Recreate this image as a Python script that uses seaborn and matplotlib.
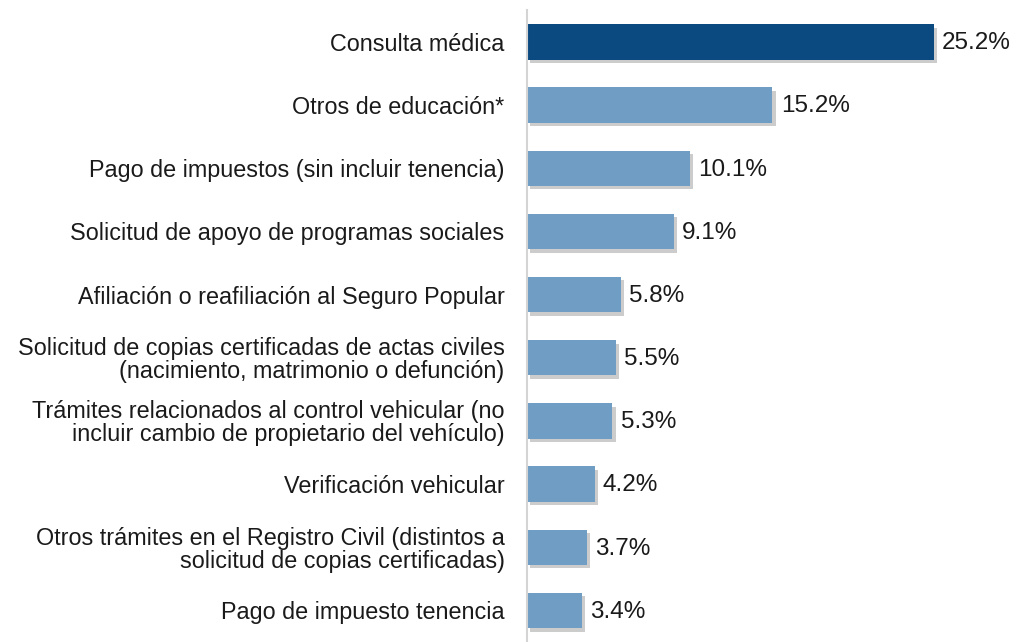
import matplotlib
matplotlib.use("Agg")
import matplotlib.pyplot as plt
import matplotlib.patheffects as pe
import seaborn as sns
import pandas as pd

categories = [
    "Consulta médica",
    "Otros de educación*",
    "Pago de impuestos (sin incluir tenencia)",
    "Solicitud de apoyo de programas sociales",
    "Afiliación o reafiliación al Seguro Popular",
    "Solicitud de copias certificadas de actas civiles\n(nacimiento, matrimonio o defunción)",
    "Trámites relacionados al control vehicular (no\nincluir cambio de propietario del vehículo)",
    "Verificación vehicular",
    "Otros trámites en el Registro Civil (distintos a\nsolicitud de copias certificadas)",
    "Pago de impuesto tenencia",
]
values = [25.2, 15.2, 10.1, 9.1, 5.8, 5.5, 5.3, 4.2, 3.7, 3.4]
value_labels = ["25.2%", "15.2%", "10.1%", "9.1%", "5.8%", "5.5%", "5.3%", "4.2%", "3.7%", "3.4%"]

dark = "#0B4A80"
light = "#6F9DC4"
colors = [dark] + [light] * (len(categories) - 1)

sns.set_theme(style="white")
plt.rcParams["font.family"] = ["Liberation Sans", "DejaVu Sans"]

df = pd.DataFrame({"cat": categories, "val": values})

fig = plt.figure(figsize=(10.21, 6.42), dpi=100)
ax = fig.add_axes([0.516, 0.0, 0.484, 0.984])

sns.barplot(data=df, x="val", y="cat", hue="cat", palette=colors, legend=False,
            orient="h", width=0.56, ax=ax, saturation=1, linewidth=0)

for p in ax.patches:
    p.set_linewidth(0)
    p.set_path_effects([pe.SimplePatchShadow(offset=(2.5, -2.5), shadow_rgbFace="#808080", alpha=0.4),
                        pe.Normal()])

for i, (v, lab) in enumerate(zip(values, value_labels)):
    ax.annotate(lab, xy=(v, i), xytext=(6, -1), textcoords="offset points",
                ha="left", va="center", fontsize=17.5, color="#1a1a1a")

ax.set_xlim(0, 30.6)
ax.set_ylim(len(categories) - 0.5, -0.5)
ax.set_xlabel("")
ax.set_ylabel("")
ax.set_xticks([])
ax.tick_params(axis="y", length=0, pad=16, labelsize=16.8, labelcolor="#1a1a1a")
for s in ["top", "right", "bottom"]:
    ax.spines[s].set_visible(False)
ax.spines["left"].set_color("#D4D4D4")
ax.spines["left"].set_linewidth(1.5)
for t in ax.get_yticklabels():
    t.set_linespacing(1.0)
    t.set_ha("right")
    if "\n" in t.get_text():
        t.set_va("center_baseline")

fig.savefig("out.png", dpi=100)
